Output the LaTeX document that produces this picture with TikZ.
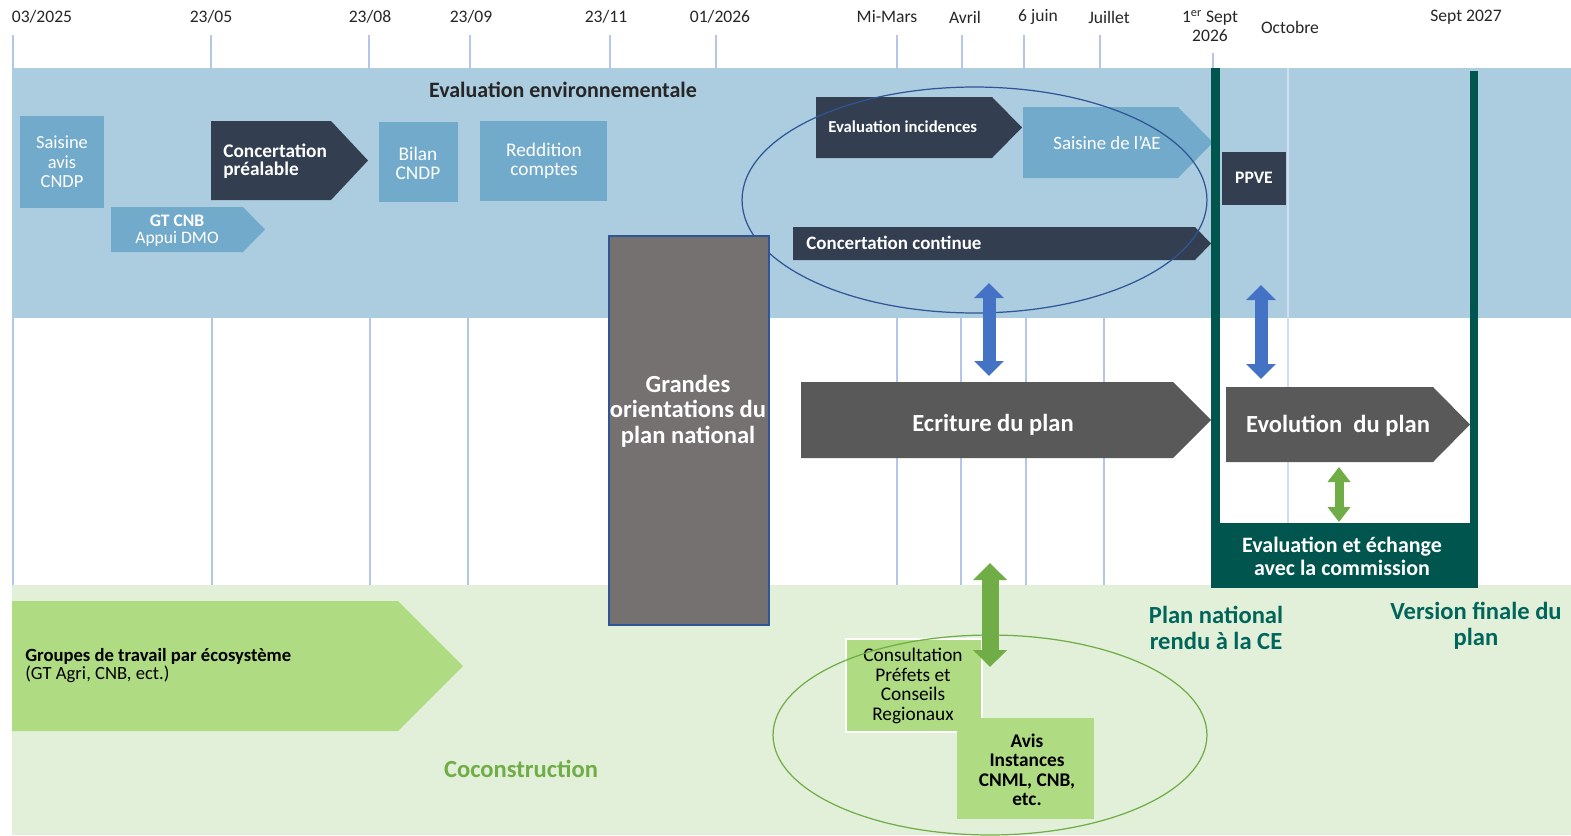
\documentclass[tikz,border=0pt]{standalone}
\usepackage{fontspec}
\setmainfont{Carlito}
\usetikzlibrary{arrows.meta}
\definecolor{bandblue}{HTML}{ACCDE0}
\definecolor{bandgreen}{HTML}{E2F0D9}
\definecolor{midblue}{HTML}{72AACB}
\definecolor{navy}{HTML}{333F50}
\definecolor{grandgray}{HTML}{767171}
\definecolor{plangray}{HTML}{595959}
\definecolor{framegreen}{HTML}{00564F}
\definecolor{arrowblue}{HTML}{4472C4}
\definecolor{grassgreen}{HTML}{70AD47}
\definecolor{leafgreen}{HTML}{AFDB82}
\definecolor{tickblue}{HTML}{B4C7E7}
\definecolor{ellblue}{HTML}{2F5597}
\definecolor{titletxt}{HTML}{262626}
\definecolor{planteal}{HTML}{00665B}
% x1, y1, tip x, y2, start of the tip, colour
\newcommand{\phasearrow}[6]{%
  \fill[#6] (#1,#2) -- (#5,#2) -- (#3,{(#2+#4)/2}) -- (#5,#4) -- (#1,#4) -- cycle;}
\begin{document}
\begin{tikzpicture}[x=0.02cm,y=-0.02cm,
    tick/.style={draw=tickblue,line width=0.8pt},
    date/.style={inner sep=0pt,text=titletxt,align=center,font=\fontsize{10}{10.5}\selectfont},
    boxtext/.style={inner sep=0pt,text=white,align=center,font=\fontsize{11}{10.8}\selectfont},
    bigtext/.style={inner sep=0pt,text=white,align=center,font=\bfseries\fontsize{14}{14.5}\selectfont},
    milestone/.style={inner sep=0pt,text=planteal,align=center,font=\bfseries\fontsize{14}{14.8}\selectfont},
    bluelink/.style={draw=arrowblue,line width=0.26cm,
      {Triangle[length=0.3cm,width=0.58cm]}-{Triangle[length=0.3cm,width=0.58cm]}},
    greenlink/.style={draw=grassgreen,line width=0.34cm,
      {Triangle[length=0.34cm,width=0.66cm]}-{Triangle[length=0.34cm,width=0.66cm]}},
    smalllink/.style={draw=grassgreen,line width=0.18cm,
      {Triangle[length=0.3cm,width=0.44cm]}-{Triangle[length=0.3cm,width=0.44cm]}}]
  \useasboundingbox (0,0) rectangle (1571,835);
  \fill[white] (0,0) rectangle (1571,835);
  % time axis
  \foreach \x in {13,211,369,470,610,716,897,962,1024,1100}
    \draw[tick] (\x,35) -- (\x,68);
  \draw[tick] (1213,53) -- (1213,68);
  \foreach \x in {13,212,370,468,897,961,1026,1104}
    \draw[tick] (\x,318) -- (\x,585);
  \node[date] (d1) at (42,17) {03/2025};
  \node[date] (d2) at (211,17) {23/05};
  \node[date] (d3) at (370,17) {23/08};
  \node[date] (d4) at (471,17) {23/09};
  \node[date] (d5) at (606,17) {23/11};
  \node[date] (d6) at (720,17) {01/2026};
  \node[date] (d7) at (887,17) {Mi-Mars};
  \node[date] (d8) at (965,17) {Avril};
  \node[date] (d9) at (1038,17) {6 juin};
  \node[date] (d10) at (1109,17) {Juillet};
  \node[date] (d11) at (1210,26) {1\textsuperscript{er} Sept\\2026};
  \node[date] (d12) at (1290,27) {Octobre};
  \node[date] (d13) at (1466,17) {Sept 2027};
  % bands
  \fill[bandblue] (12,68) rectangle (1571,318);
  \fill[bandgreen] (12,585) rectangle (1571,835);
  \draw[draw=tickblue!60!white,line width=0.8pt] (1288,68) -- (1288,523);
  \node[inner sep=0pt,text=titletxt,font=\bfseries\fontsize{12.5}{13}\selectfont] (evalenv) at (563,90) {Evaluation environnementale};
  % evaluation environnementale
  \fill[midblue] (20,116) rectangle (104,208);
  \node[boxtext,font=\fontsize{10.5}{11.1}\selectfont] (saisine) at (62,162) {Saisine\\avis\\CNDP};
  \phasearrow{111}{207}{265}{252}{243}{midblue}
  \node[boxtext,font=\fontsize{10}{9.8}\selectfont] (gtcnb) at (177,231) {\textbf{GT CNB}\\Appui DMO};
  \phasearrow{211}{121}{368}{200}{331}{navy}
  \node[boxtext,align=left,anchor=west,font=\bfseries\fontsize{11}{10.5}\selectfont] (concprea) at (223,161) {Concertation\\préalable};
  \fill[midblue] (379,122) rectangle (458,202);
  \node[boxtext] (bilan) at (418,163) {Bilan\\CNDP};
  \fill[midblue] (480,121) rectangle (607,201);
  \node[boxtext] (reddition) at (544,161) {Reddition\\comptes};
  \phasearrow{816}{97}{1022}{158}{992}{navy}
  \node[boxtext,anchor=west,font=\bfseries\fontsize{9.5}{10}\selectfont] (evalinc) at (828,127) {Evaluation incidences};
  \phasearrow{1023}{107}{1213}{178}{1178}{midblue}
  \node[boxtext,font=\fontsize{10.7}{11}\selectfont] (saisineae) at (1107,143) {Saisine de l’AE};
  \phasearrow{793}{227}{1211}{260}{1195}{navy}
  \node[boxtext,anchor=west,font=\bfseries\fontsize{10.8}{11}\selectfont] (concont) at (806,243) {Concertation continue};
  \fill[navy] (1222,152) rectangle (1286,205);
  \node[boxtext,font=\bfseries\fontsize{10}{10}\selectfont] (ppve) at (1254,178) {PPVE};
  \draw[ellblue,line width=0.7pt] (974.5,200) ellipse [x radius=4.65cm,y radius=2.26cm];
  % plan
  \filldraw[fill=grandgray,draw=ellblue,line width=0.6pt] (609,236) rectangle (769,625);
  \node[bigtext] (grandes) at (688,411) {Grandes\\orientations du\\plan national};
  \fill[framegreen] (1211,68) rectangle (1220,588);
  \fill[framegreen] (1470,71) rectangle (1478,588);
  \fill[framegreen] (1213,523) rectangle (1478,588);
  \node[bigtext,font=\bfseries\fontsize{12.5}{13}\selectfont] (echange) at (1342,556) {Evaluation et échange\\avec la commission};
  \phasearrow{801}{382}{1211}{458}{1173}{plangray}
  \node[bigtext] (ecriture) at (993,425) {Ecriture du plan};
  \phasearrow{1226}{387}{1470}{462}{1433}{plangray}
  \node[bigtext] (evolution) at (1338,426) {Evolution~ du plan};
  % coconstruction
  \phasearrow{12}{601}{463}{731}{398}{leafgreen}
  \node[inner sep=0pt,anchor=west,align=left,text=black,font=\fontsize{10.6}{10.3}\selectfont] (groupes) at (25,666) {\textbf{Groupes de travail par écosystème}\\(GT Agri, CNB, ect.)};
  \node[inner sep=0pt,text=grassgreen,font=\bfseries\fontsize{14}{14}\selectfont] (cocon) at (521,769) {Coconstruction};
  \filldraw[fill=leafgreen,draw=white,line width=1pt] (846,639) rectangle (982,732);
  \node[inner sep=0pt,align=center,text=black,font=\fontsize{11}{11.1}\selectfont] (consult) at (913,686) {Consultation\\Préfets et\\Conseils\\Regionaux};
  \fill[leafgreen] (957,718) rectangle (1094,819);
  \node[inner sep=0pt,align=center,text=black,font=\bfseries\fontsize{11}{11.1}\selectfont] (avis) at (1027,770) {Avis\\Instances\\CNML, CNB,\\etc.};
  \draw[grassgreen,line width=0.7pt] (990,735) ellipse [x radius=4.34cm,y radius=2cm];
  \node[milestone] (rendu) at (1216,628) {Plan national\\rendu à la CE};
  \node[milestone] (finale) at (1476,626) {Version finale du\\plan};
  % links
  \coordinate (b1t) at (989,283);
  \coordinate (b1b) at (989,376);
  \coordinate (b2t) at (1261,285);
  \coordinate (b2b) at (1261,379);
  \coordinate (g1t) at (1339,467);
  \coordinate (g1b) at (1339,522);
  \coordinate (g2t) at (990,563);
  \coordinate (g2b) at (990,667);
  \draw[bluelink] (b1t) -- (b1b);
  \draw[bluelink] (b2t) -- (b2b);
  \draw[smalllink] (g1t) -- (g1b);
  \draw[greenlink] (g2t) -- (g2b);
\end{tikzpicture}
\end{document}
